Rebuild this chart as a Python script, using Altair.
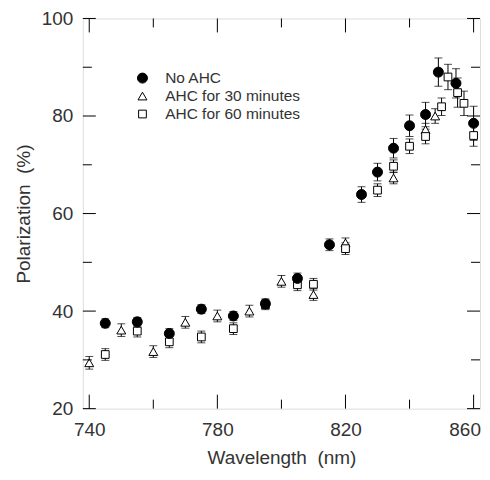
import altair as alt
import pandas as pd

# No AHC (filled circles)
c_x = [745, 755, 765, 775, 785, 795, 805, 815, 825, 830, 835, 840, 845, 849, 854.5, 860]
c_y = [37.5, 37.8, 35.4, 40.4, 39.0, 41.5, 46.7, 53.6, 63.9, 68.5, 73.4, 78.0, 80.3, 89.0, 86.7, 78.5]
c_e = [0.9, 0.9, 1.0, 0.9, 0.9, 1.0, 1.1, 1.2, 1.6, 1.8, 2.0, 2.2, 2.5, 2.9, 3.0, 3.5]

# AHC for 30 minutes (open triangles)
t_x = [740, 750, 760, 770, 780, 790, 800, 810, 820, 835, 845, 848]
t_y = [29.4, 36.1, 31.7, 37.7, 39.0, 40.0, 46.1, 43.4, 54.0, 67.3, 77.2, 80.0]
t_e = [1.3, 1.3, 1.2, 1.2, 1.2, 1.2, 1.2, 1.2, 1.0, 1.2, 1.3, 1.5]

# AHC for 60 minutes (open squares)
s_x = [745, 755, 765, 775, 785, 795, 805, 810, 820, 830, 835, 840, 845, 850, 852, 855, 857, 860]
s_y = [31.1, 35.9, 33.7, 34.7, 36.4, 41.3, 45.4, 45.5, 52.8, 64.8, 69.7, 73.8, 75.8, 81.9, 88.0, 84.8, 82.6, 76.0]
s_e = [1.2, 1.2, 1.2, 1.2, 1.2, 1.0, 1.2, 1.2, 1.2, 1.3, 1.3, 1.5, 1.5, 1.8, 2.6, 3.0, 2.5, 2.2]

series = ["No AHC", "AHC for 30 minutes", "AHC for 60 minutes"]

x_major = [740, 780, 820, 860]
x_minor = [760, 800, 840]
y_major = [20, 40, 60, 80, 100]
y_minor = [30, 50, 70, 90]

W, H = 398, 391
FONT = "Liberation Sans"
NB = "\u00a0"

rows = []
for name, xs_, ys_, es_ in [(series[1], t_x, t_y, t_e), (series[2], s_x, s_y, s_e), (series[0], c_x, c_y, c_e)]:
    for x, y, e in zip(xs_, ys_, es_):
        rows.append({"series": name, "wl": x, "pol": y, "lo": y - e, "hi": y + e})
df = pd.DataFrame(rows)

xs = alt.Scale(domain=[738, 862], nice=False, zero=False)
ys = alt.Scale(domain=[20, 100], nice=False, zero=False)

base = alt.Chart(df)

xaxis = alt.Axis(values=x_major, ticks=False, domain=False, grid=False, labelFontSize=19,
                 labelFont=FONT, labelColor="#333", labelPadding=12,
                 labelOffset=alt.expr("datum.value == 860 ? -9 : 0"),
                 titleFont=FONT, titleFontSize=19, titleFontWeight="normal", titleColor="#333",
                 titlePadding=9)
yaxis = alt.Axis(values=y_major, ticks=False, domain=False, grid=False, labelFontSize=19,
                 labelFont=FONT, labelColor="#333", labelPadding=10, titleFont=FONT,
                 titleFontSize=19, titleFontWeight="normal", titleColor="#333", titlePadding=8)

rules = base.mark_rule(color="black", strokeWidth=1).encode(
    x=alt.X("wl:Q", scale=xs, axis=xaxis, title="Wavelength" + NB + NB + "(nm)"),
    y=alt.Y("lo:Q", scale=ys, axis=yaxis, title="Polarization" + NB + NB + "(%)"),
    y2="hi:Q",
)
cap_lo = base.mark_tick(color="black", thickness=1, size=8, orient="horizontal").encode(
    x=alt.X("wl:Q", scale=xs), y=alt.Y("lo:Q", scale=ys))
cap_hi = base.mark_tick(color="black", thickness=1, size=8, orient="horizontal").encode(
    x=alt.X("wl:Q", scale=xs), y=alt.Y("hi:Q", scale=ys))

points = base.mark_point(filled=True, stroke="black", strokeWidth=1, opacity=1).encode(
    x=alt.X("wl:Q", scale=xs),
    y=alt.Y("pol:Q", scale=ys),
    shape=alt.Shape("series:N", scale=alt.Scale(domain=series, range=["circle", "triangle-up", "square"]),
                    legend=alt.Legend(title=None, orient="none", legendX=52, legendY=52,
                                      labelFont=FONT, labelFontSize=15.5, labelColor="#333",
                                      labelOffset=15, rowPadding=1, symbolStrokeWidth=1)),
    fill=alt.Fill("series:N", scale=alt.Scale(domain=series, range=["black", "white", "white"])),
    size=alt.Size("series:N", scale=alt.Scale(domain=series, range=[100, 60, 100])),
)

layers = []
for vals, ln in [(x_major, 14), (x_minor, 9)]:
    d = pd.DataFrame({"v": vals})
    layers.append(alt.Chart(d).mark_rule(color="black").encode(
        x=alt.X("v:Q", scale=xs), y=alt.value(H), y2=alt.value(H - ln)))
    layers.append(alt.Chart(d).mark_rule(color="black").encode(
        x=alt.X("v:Q", scale=xs), y=alt.value(0), y2=alt.value(ln)))
for vals, ln in [(y_major, 13), (y_minor, 9)]:
    d = pd.DataFrame({"v": vals})
    layers.append(alt.Chart(d).mark_rule(color="black").encode(
        y=alt.Y("v:Q", scale=ys), x=alt.value(0), x2=alt.value(ln)))
    layers.append(alt.Chart(d).mark_rule(color="black").encode(
        y=alt.Y("v:Q", scale=ys), x=alt.value(W), x2=alt.value(W - ln)))

chart = alt.layer(rules, cap_lo, cap_hi, points, *layers).properties(
    width=W, height=H,
    autosize=alt.AutoSizeParams(type="none"),
    padding={"left": 75, "top": 10, "right": 2, "bottom": 62},
).configure_view(stroke="black", strokeWidth=1).configure(background="white")

chart.save("out.html", embed_options={"renderer": "svg", "actions": False})
